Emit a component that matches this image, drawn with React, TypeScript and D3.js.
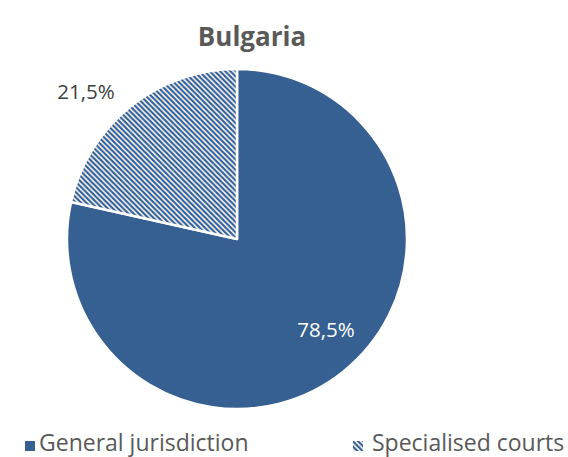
import React from "react";
import * as d3 from "d3";

const categories = ["General jurisdiction", "Specialised courts"];
const values = [78.5, 21.5];
const labels = ["78,5%", "21,5%"];
const title = "Bulgaria";

const W = 568, H = 457;
const cx = 237, cy = 239, R = 170;
const BLUE = "#365F92";
const FONT = "'Open Sans', Lato, sans-serif";

export default function App() {
  const pie = d3.pie<number>().sort(null).value((d) => d)(values);
  const arc = d3.arc<d3.PieArcDatum<number>>().innerRadius(0).outerRadius(R);
  const fills = [BLUE, "url(#hatch)"];
  const labelPos: [number, number][] = [[326, 329], [86, 91]];
  const labelColor = ["#ffffff", "#404040"];
  const P = 5.2;
  return (
    <svg width={W} height={H} style={{ position: "absolute", left: 0, top: 0 }}>
      <defs>
        <pattern id="hatch" patternUnits="userSpaceOnUse" width={P} height={P}>
          <rect width={P} height={P} fill="#fff" />
          <path d={`M0,0 L${P},${P} M${-P / 2},${P / 2} L${P / 2},${1.5 * P} M${P / 2},${-P / 2} L${1.5 * P},${P / 2}`} stroke={BLUE} strokeWidth={2.2} />
        </pattern>
      </defs>
      <rect width={W} height={H} fill="#fff" />
      <text x={252} y={46} textAnchor="middle" fontFamily={FONT} fontWeight="bold" fontSize={26} fill="#595959">{title}</text>
      <g transform={`translate(${cx},${cy})`}>
        {pie.map((p, i) => (
          <path key={i} d={arc(p) || ""} fill={fills[i]} stroke="#fff" strokeWidth={2.5} strokeLinejoin="round" />
        ))}
      </g>
      {labels.map((l, i) => (
        <text key={i} x={labelPos[i][0]} y={labelPos[i][1]} textAnchor="middle" dominantBaseline="central" fontFamily={FONT} fontSize={20.5} fill={labelColor[i]}>{l}</text>
      ))}
      <rect x={25} y={441} width={10} height={10} fill={BLUE} />
      <text x={39} y={450.5} fontFamily={FONT} fontSize={23} fill="#595959">{categories[0]}</text>
      <rect x={353} y={441} width={10} height={10} fill="url(#hatch)" />
      <text x={372} y={450.5} fontFamily={FONT} fontSize={23} fill="#595959">{categories[1]}</text>
    </svg>
  );
}
